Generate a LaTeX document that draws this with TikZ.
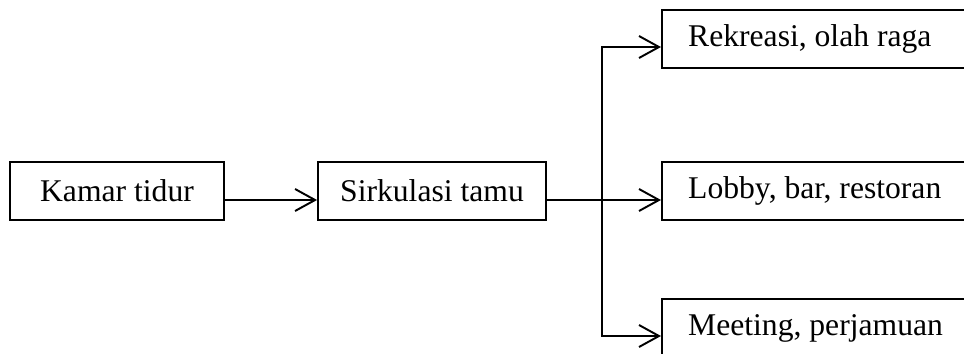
\documentclass[tikz,border=0pt]{standalone}
\usepackage{fontspec}
\setmainfont{Liberation Serif}
\usetikzlibrary{arrows.meta}

\tikzset{
  kotak/.style={draw, line width=1.1pt, minimum height=1.16cm, inner sep=0pt},
  kotakkanan/.style={kotak, anchor=west, minimum width=7.2cm,
    label={[anchor=west, xshift=0.42cm]west:#1}},
  panah/.style={line width=1.1pt, -{Straight Barb[length=0.4cm, width=0.44cm, line width=1.1pt]}}
}

\begin{document}
\begin{tikzpicture}[x=0.02cm, y=-0.02cm, font=\fontsize{18}{22}\selectfont]
    \useasboundingbox (0,0) rectangle (964,353);
    \node[kotak, minimum width=4.28cm] (kamar) at (117,191) {Kamar tidur};
    \node[kotak, minimum width=4.56cm] (sirkulasi) at (432,191) {Sirkulasi tamu};
    \node[kotakkanan={Rekreasi, olah raga}] (rekreasi) at (661,39) {};
    \node[kotakkanan={Lobby, bar, restoran}] (lobby) at (661,191) {};
    \node[kotakkanan={Meeting, perjamuan}] (meeting) at (661,328) {};
    \coordinate (cabang) at (602,200);
    \draw[panah] ([yshift=-0.18cm]kamar.east) -- ([yshift=-0.18cm]sirkulasi.west);
    \draw[panah] ([yshift=-0.18cm]sirkulasi.east) -- ([yshift=-0.18cm]lobby.west);
    \draw[panah] (cabang) |- ([yshift=-0.16cm]rekreasi.west);
    \draw[panah] (cabang) |- ([yshift=-0.16cm]meeting.west);
  \end{tikzpicture}
\end{document}
